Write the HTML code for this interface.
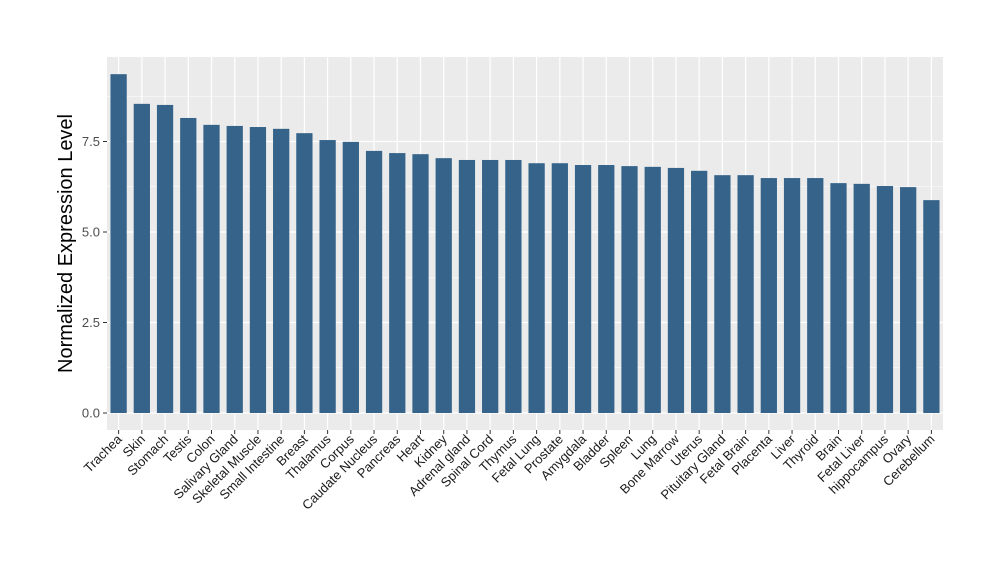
<!DOCTYPE html>
<html><head><meta charset="utf-8"><style>
body{margin:0;background:#fff}
svg{font-family:"Liberation Sans",Arial,sans-serif}
</style></head><body>
<svg id="chart" width="1000" height="580"></svg>
<script>
const categories=["Trachea","Skin","Stomach","Testis","Colon","Salivary Gland","Skeletal Muscle","Small Intestine","Breast","Thalamus","Corpus","Caudate Nucleus","Pancreas","Heart","Kidney","Adrenal gland","Spinal Cord","Thymus","Fetal Lung","Prostate","Amygdala","Bladder","Spleen","Lung","Bone Marrow","Uterus","Pituitary Gland","Fetal Brain","Placenta","Liver","Thyroid","Brain","Fetal Liver","hippocampus","Ovary","Cerebellum"];
const values=[9.36,8.54,8.51,8.15,7.96,7.93,7.9,7.85,7.73,7.54,7.49,7.24,7.18,7.15,7.04,6.99,6.99,6.99,6.9,6.9,6.85,6.85,6.82,6.8,6.77,6.69,6.57,6.57,6.49,6.49,6.49,6.35,6.33,6.27,6.24,5.88];
const yTicks=[0,2.5,5,7.5];
const yTickLabels=["0.0","2.5","5.0","7.5"];
const NS="http://www.w3.org/2000/svg";
const svg=document.getElementById('chart');
const L=107,R=943,T=57,B=430;
const yZero=413,pxPerUnit=36.2;
function y(v){return yZero-v*pxPerUnit;}
const step=(R-L)/categories.length;
function x(i){return L+step*(i+0.5);}
function mk(tag,attrs,parent){const e=document.createElementNS(NS,tag);for(const k in attrs)e.setAttribute(k,attrs[k]);(parent||svg).appendChild(e);return e;}
const bg=mk('rect',{x:L,y:T,width:R-L,height:B-T,fill:'#EBEBEB'});


// minor gridlines
for(let i=0;i<yTicks.length;i++){
  const v=yTicks[i]+1.25; const yy=y(v);
  if(yy>T){const g=mk('line',{x1:L,x2:R,y1:yy,y2:yy,stroke:'#fff','stroke-width':0.6});
  
  }
}
yTicks.forEach((v,i)=>{
  const yy=y(v);
  const g=mk('line',{x1:L,x2:R,y1:yy,y2:yy,stroke:'#fff','stroke-width':1.2});
  
  
  const tk=mk('line',{x1:L-4,x2:L,y1:yy,y2:yy,stroke:'#333','stroke-width':1});
  
  
  const t=mk('text',{x:L-7,y:yy+4.5,'text-anchor':'end','font-size':13,fill:'#4D4D4D'});
  t.textContent=yTickLabels[i];
  
  
});
categories.forEach((c,i)=>{
  const cx=x(i);
  const g=mk('line',{x1:cx,x2:cx,y1:T,y2:B,stroke:'#fff','stroke-width':1.2});
  
  
});
categories.forEach((c,i)=>{
  const cx=x(i),bw=step*0.7;
  const b=mk('rect',{x:cx-bw/2,y:y(values[i]),width:bw,height:yZero-y(values[i]),fill:'#35638A'});
  
  
  const tk=mk('line',{x1:cx,x2:cx,y1:B,y2:B+4,stroke:'#333','stroke-width':1});
  
  
  const t=mk('text',{x:cx+4,y:B+10,'text-anchor':'end','font-size':13,fill:'#1a1a1a',transform:`rotate(-45 ${cx+4} ${B+10})`});
  t.textContent=c;
  
  
});
const yt=mk('text',{x:72,y:(T+B)/2,'text-anchor':'middle','font-size':20,fill:'#000',transform:`rotate(-90 72 ${(T+B)/2})`});
yt.textContent='Normalized Expression Level';


</script>
</body></html>
